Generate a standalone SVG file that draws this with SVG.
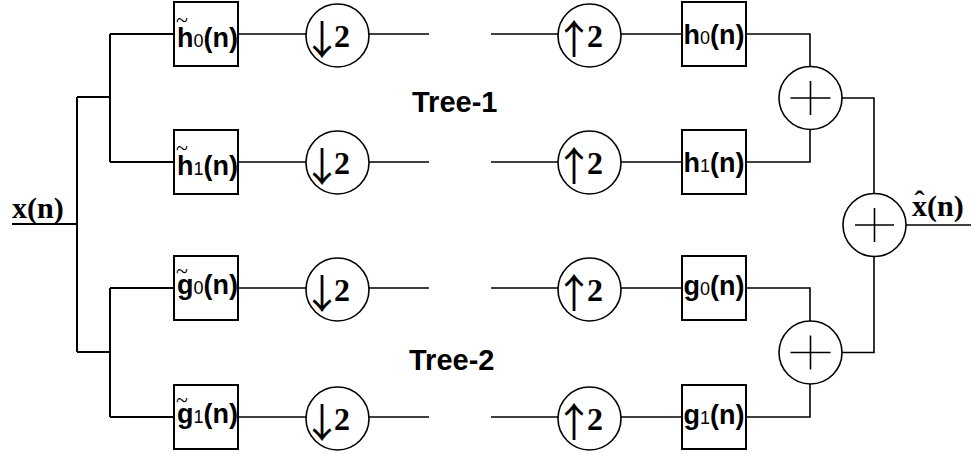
<svg xmlns="http://www.w3.org/2000/svg" width="971" height="453" viewBox="0 0 971 453">
  <style>
    .wire { fill: none; stroke: #000; stroke-width: 2; }
    .sig { fill: none; stroke: #000; stroke-width: 1.6; }
    .box { fill: #fff; stroke: #000; stroke-width: 2; }
    .op { fill: #fff; stroke: #000; stroke-width: 1.6; }
    .plus { stroke: #000; stroke-width: 1.6; }
    .flt { font-family: "Liberation Sans", Arial, sans-serif; font-weight: bold; font-size: 27px; }
    .sub { font-weight: normal; font-size: 18px; }
    .tl { font-family: "Liberation Serif", "Times New Roman", serif; font-weight: normal; font-size: 22px; }
    .arr { font-family: "Noto Sans CJK JP", "Noto Sans CJK SC", sans-serif; font-weight: normal; font-size: 40px; }
    .two { font-family: "Liberation Serif", "Times New Roman", serif; font-weight: bold; font-size: 32px; }
    .sigl { font-family: "Liberation Serif", "Times New Roman", serif; font-weight: bold; font-size: 30px; }
    .tree { font-family: "Liberation Sans", Arial, sans-serif; font-weight: bold; font-size: 29px; }
  </style>

  <!-- connectors -->
  <g id="connectors">
    <!-- analysis tree -->
    <path class="wire" d="M12 224H77 M77 97V352 M77 97H110 M77 352H110 M110 34V162 M110 288V417 M110 34H174 M110 162H174 M110 288H174 M110 417H174"/>
    <!-- filter to downsampler to gap -->
    <path class="sig" d="M238 34H306 M369 34H429 M238 162H306 M369 162H429 M238 288H306 M369 288H429 M238 417H306 M369 417H429"/>
    <!-- gap to upsampler to synthesis filter -->
    <path class="sig" d="M491 34H558 M621 34H682 M491 162H558 M621 162H682 M491 288H558 M621 288H682 M491 417H558 M621 417H682"/>
    <!-- synthesis filters into adders -->
    <path class="sig" d="M746 34H810V66.5 M746 162H810V129.5 M746 288H810V321 M746 417H810V384"/>
    <!-- adders into final adder and output -->
    <path class="sig" d="M842 98H874V193.5 M842 352.5H874V256.5 M906 225H971"/>
  </g>

  <!-- input label -->
  <g id="input">
    <text class="sigl" x="12" y="218">x(n)</text>
  </g>

  <!-- analysis filters (tilde over the name) -->
  <g id="h0t">
    <rect class="box" x="174" y="2" width="64" height="64"/>
    <text class="flt" x="176" y="27"><tspan class="tl">~</tspan><tspan dx="-11" dy="20">h</tspan><tspan class="sub">0</tspan>(n)</text>
  </g>
  <g id="h1t">
    <rect class="box" x="174" y="130" width="64" height="64"/>
    <text class="flt" x="176" y="155"><tspan class="tl">~</tspan><tspan dx="-11" dy="20">h</tspan><tspan class="sub">1</tspan>(n)</text>
  </g>
  <g id="g0t">
    <rect class="box" x="174" y="256" width="64" height="64"/>
    <text class="flt" x="176" y="278"><tspan class="tl">~</tspan><tspan dx="-11" dy="16">g</tspan><tspan class="sub">0</tspan>(n)</text>
  </g>
  <g id="g1t">
    <rect class="box" x="174" y="385" width="64" height="64"/>
    <text class="flt" x="176" y="407"><tspan class="tl">~</tspan><tspan dx="-11" dy="16">g</tspan><tspan class="sub">1</tspan>(n)</text>
  </g>

  <!-- downsamplers -->
  <g id="down0">
    <circle class="op" cx="337.5" cy="35.5" r="31.5"/>
    <text x="302" y="54"><tspan class="arr">↓</tspan><tspan class="two" dx="-8" dy="-7">2</tspan></text>
  </g>
  <g id="down1">
    <circle class="op" cx="337.5" cy="162.5" r="31.5"/>
    <text x="302" y="181"><tspan class="arr">↓</tspan><tspan class="two" dx="-8" dy="-7">2</tspan></text>
  </g>
  <g id="down2">
    <circle class="op" cx="337.5" cy="289.5" r="31.5"/>
    <text x="302" y="308"><tspan class="arr">↓</tspan><tspan class="two" dx="-8" dy="-7">2</tspan></text>
  </g>
  <g id="down3">
    <circle class="op" cx="337.5" cy="418.5" r="31.5"/>
    <text x="302" y="437"><tspan class="arr">↓</tspan><tspan class="two" dx="-8" dy="-7">2</tspan></text>
  </g>

  <!-- tree captions -->
  <text class="tree" x="412" y="112">Tree-1</text>
  <text class="tree" x="409" y="370">Tree-2</text>

  <!-- upsamplers -->
  <g id="up0">
    <circle class="op" cx="589.5" cy="35.5" r="31.5"/>
    <text x="554" y="54"><tspan class="arr">↑</tspan><tspan class="two" dx="-7" dy="-7">2</tspan></text>
  </g>
  <g id="up1">
    <circle class="op" cx="589.5" cy="162.5" r="31.5"/>
    <text x="554" y="181"><tspan class="arr">↑</tspan><tspan class="two" dx="-7" dy="-7">2</tspan></text>
  </g>
  <g id="up2">
    <circle class="op" cx="589.5" cy="289.5" r="31.5"/>
    <text x="554" y="308"><tspan class="arr">↑</tspan><tspan class="two" dx="-7" dy="-7">2</tspan></text>
  </g>
  <g id="up3">
    <circle class="op" cx="589.5" cy="418.5" r="31.5"/>
    <text x="554" y="437"><tspan class="arr">↑</tspan><tspan class="two" dx="-7" dy="-7">2</tspan></text>
  </g>

  <!-- synthesis filters -->
  <g id="h0">
    <rect class="box" x="682" y="2" width="64" height="64"/>
    <text class="flt" x="714" y="44" text-anchor="middle">h<tspan class="sub">0</tspan>(n)</text>
  </g>
  <g id="h1">
    <rect class="box" x="682" y="130" width="64" height="64"/>
    <text class="flt" x="714" y="172" text-anchor="middle">h<tspan class="sub">1</tspan>(n)</text>
  </g>
  <g id="g0">
    <rect class="box" x="682" y="256" width="64" height="64"/>
    <text class="flt" x="714" y="295" text-anchor="middle">g<tspan class="sub">0</tspan>(n)</text>
  </g>
  <g id="g1">
    <rect class="box" x="682" y="385" width="64" height="64"/>
    <text class="flt" x="714" y="424" text-anchor="middle">g<tspan class="sub">1</tspan>(n)</text>
  </g>

  <!-- adders -->
  <g id="add1">
    <circle class="op" cx="810.5" cy="98" r="31.5"/>
    <path class="plus" d="M790.5 98H830.5 M810.5 81V115"/>
  </g>
  <g id="add2">
    <circle class="op" cx="810.5" cy="352.5" r="31.5"/>
    <path class="plus" d="M790.5 352.5H830.5 M810.5 335.5V369.5"/>
  </g>
  <g id="addOut">
    <circle class="op" cx="874.5" cy="225" r="31.5"/>
    <path class="plus" d="M855 225H894 M874.5 208V242"/>
  </g>

  <!-- output label: x with a hat -->
  <g id="output">
    <text class="sigl" x="912" y="216">x<tspan dx="-12.5" dy="-5">ˆ</tspan><tspan dx="2.5" dy="5">(n)</tspan></text>
  </g>
</svg>
